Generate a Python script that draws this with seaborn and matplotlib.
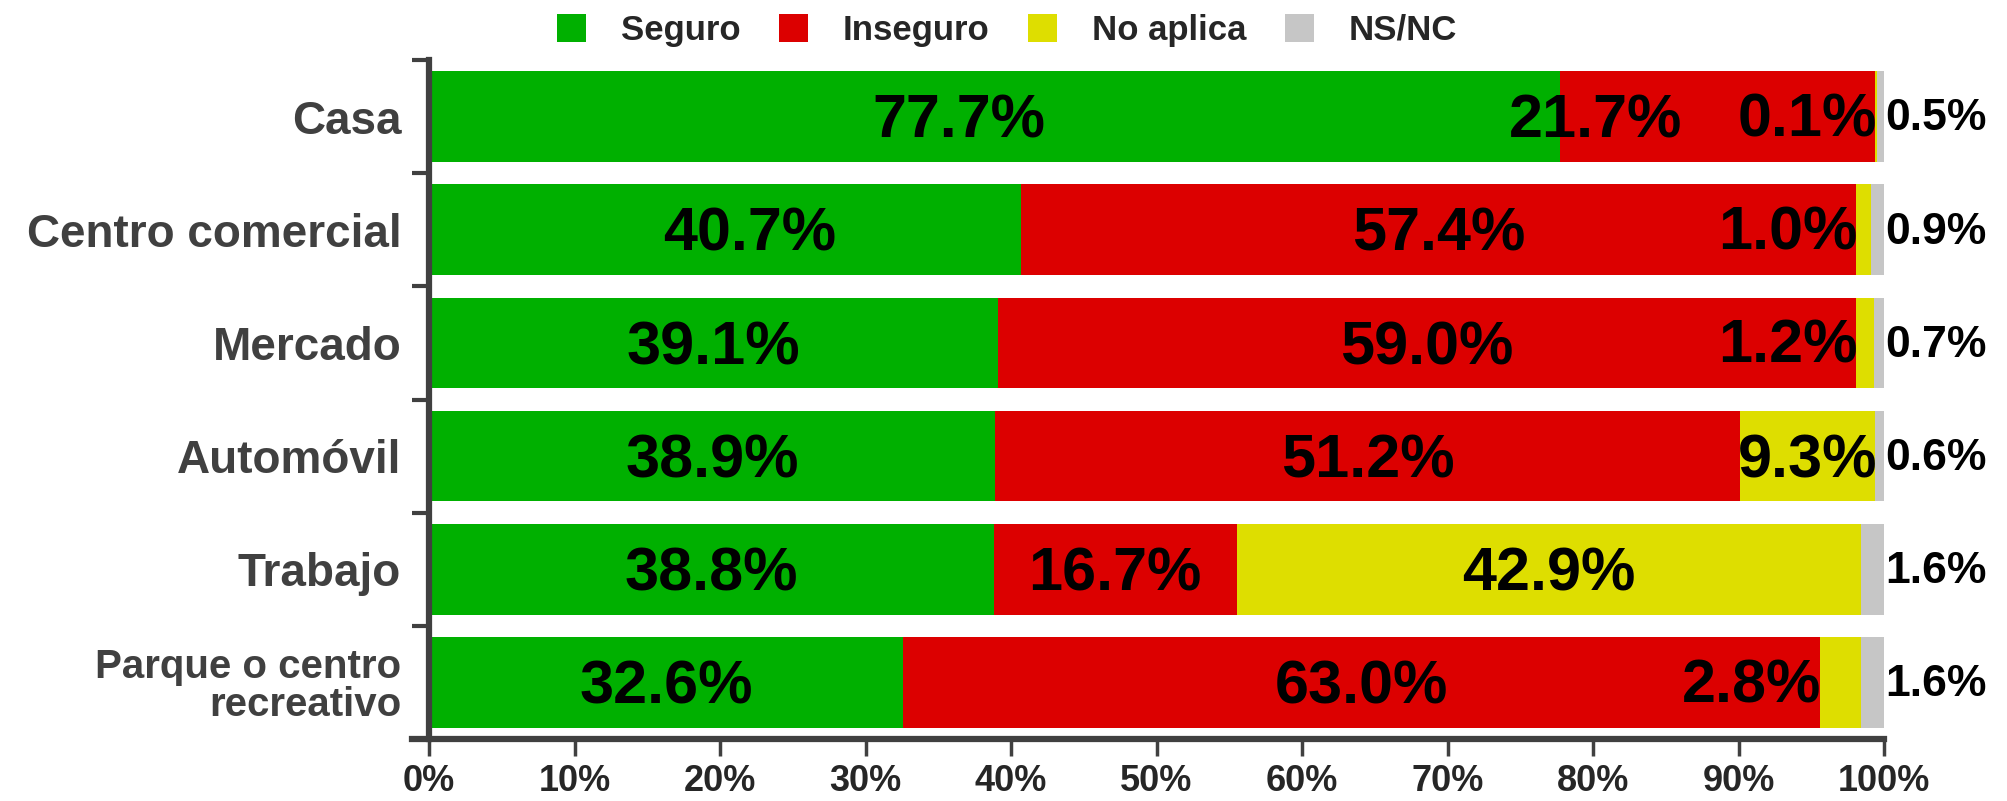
import matplotlib
matplotlib.use('Agg')
import matplotlib.pyplot as plt
from matplotlib.patches import Patch
import seaborn as sns
import pandas as pd
import numpy as np

# Datos (porcentajes por lugar)
categorias = ['Casa', 'Centro comercial', 'Mercado', 'Automóvil', 'Trabajo',
              'Parque o centro\nrecreativo']
seguro = [77.7, 40.7, 39.1, 38.9, 38.8, 32.6]
inseguro = [21.7, 57.4, 59.0, 51.2, 16.7, 63.0]
no_aplica = [0.1, 1.0, 1.2, 9.3, 42.9, 2.8]
ns_nc = [0.5, 0.9, 0.7, 0.6, 1.6, 1.6]

series = ['Seguro', 'Inseguro', 'No aplica', 'NS/NC']
colores = ['#00B000', '#DC0000', '#DEDE00', '#C6C6C6']
ticks_x = list(range(0, 101, 10))

# Ajustes manuales de la posición de algunas etiquetas (en puntos porcentuales)
ajustes_x = {('Casa', 'Seguro'): -2.4, ('Casa', 'Inseguro'): -8.4,
             ('Centro comercial', 'Seguro'): 1.7}

sns.set_style('white')
plt.rcParams['font.family'] = ['Liberation Sans', 'DejaVu Sans']
fuente_estrecha = ['Liberation Sans Narrow', 'Liberation Sans', 'DejaVu Sans']
gris = '#404040'

df = pd.DataFrame({'categoria': categorias, 'Seguro': seguro, 'Inseguro': inseguro,
                   'No aplica': no_aplica, 'NS/NC': ns_nc})
acumulado = df[series].cumsum(axis=1)

fig = plt.figure(figsize=(20.08, 8.01), dpi=100)
ax = fig.add_axes([429 / 2008, 1 - 739 / 801, (1884 - 429) / 2008, (739 - 60) / 801])

# 1. Barras apiladas: de la suma mayor a la menor
for serie, color in reversed(list(zip(series, colores))):
    sns.barplot(x=acumulado[serie], y=df['categoria'], orient='h', color=color,
                width=0.8, linewidth=0, saturation=1, ax=ax)

# 2. Etiquetas de datos
for i, cat in enumerate(categorias):
    inicio = 0
    for serie in series:
        valor = df.loc[i, serie]
        texto = f'{valor:.1f}%'
        if serie == 'NS/NC':
            ax.text(100.1, i + 0.02, texto, ha='left', va='center', fontsize=32,
                    fontweight='bold', color='black')
        elif serie == 'No aplica' and valor < 5:
            ax.text(inicio + 0.1, i + 0.04, texto, ha='right', va='center', fontsize=44,
                    fontweight='bold', color='black')
        else:
            x = inicio + valor / 2 + ajustes_x.get((cat, serie), 0)
            ax.text(x, i + 0.05, texto, ha='center', va='center', fontsize=44,
                    fontweight='bold', color='black')
        inicio += valor

# 3. Ejes
ax.set_xlim(0, 100)
ax.set_ylim(5.5, -0.5)
ax.set_xlabel('')
ax.set_ylabel('')
ax.set_xticks(ticks_x)
ax.set_xticklabels([f'{v}%' for v in ticks_x], family=fuente_estrecha,
                   fontweight='bold', fontsize=26)
ax.set_yticks(range(len(categorias)))
ax.set_yticklabels(categorias, fontweight='bold', fontsize=33, color=gris,
                   linespacing=1.0)
ax.get_yticklabels()[-1].set_fontsize(29)
ax.set_yticks(np.arange(-0.5, len(categorias), 1), minor=True)

ax.tick_params(axis='x', which='major', bottom=True, length=12, width=2.5,
               color=gris, pad=6)
ax.tick_params(axis='y', which='major', left=True, length=0, pad=20)
ax.tick_params(axis='y', which='minor', left=True, length=12, width=3, color=gris)

for lado in ['top', 'right']:
    ax.spines[lado].set_visible(False)
for lado in ['left', 'bottom']:
    ax.spines[lado].set_color(gris)
    ax.spines[lado].set_linewidth(4.5)
ax.spines['bottom'].set_bounds(-1.2, 100)
ax.grid(False)

# 4. Leyenda
handles = [Patch(facecolor=c, edgecolor='none') for c in colores]
fig.legend(handles, series, loc='center', bbox_to_anchor=(0.5015, 0.962), ncol=4,
           frameon=False, prop={'family': fuente_estrecha, 'weight': 'bold', 'size': 25},
           handlelength=0.85, handleheight=0.85, handletextpad=1.0, columnspacing=1.1)

fig.savefig('out.png', dpi=100)
plt.close(fig)
